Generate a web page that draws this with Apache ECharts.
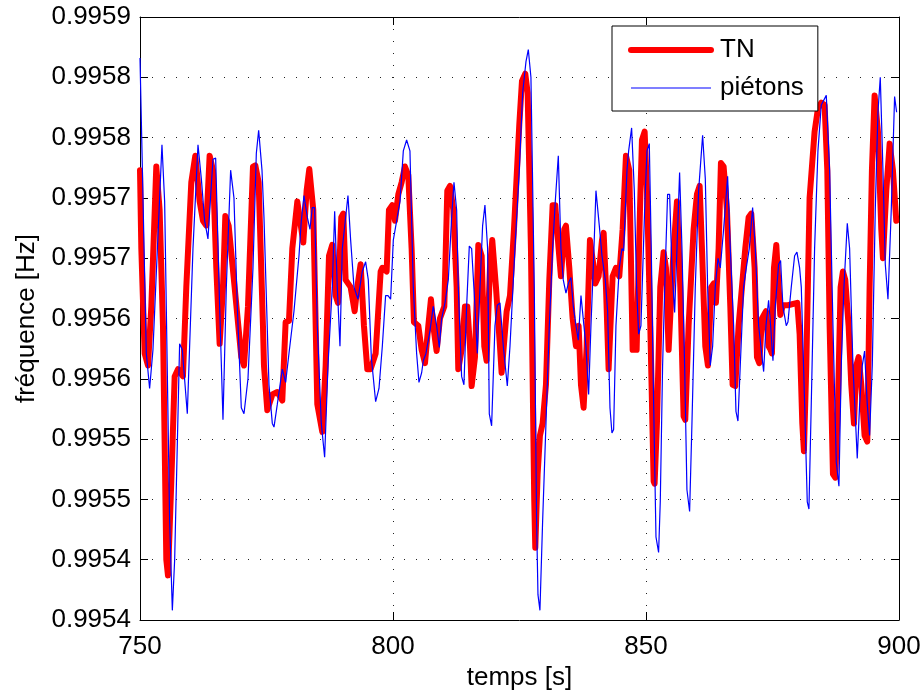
<!DOCTYPE html>
<html>
<head>
<meta charset="utf-8">
<script src="https://cdn.jsdelivr.net/npm/echarts@6/dist/echarts.min.js"></script>
<style>
html,body{margin:0;padding:0;background:#fff;}
#chart{width:922px;height:691px;}
</style>
</head>
<body>
<div id="chart"></div>
<script>
// ---- data ----
var xTicks = [750, 800, 850, 900];
var yTickLabels = ['0.9954','0.9954','0.9955','0.9955','0.9956','0.9956','0.9957','0.9957','0.9958','0.9958','0.9959'];
var seriesNames = ['TN', 'piétons'];

var tTN = [750.0,750.26,750.92,751.58,752.24,753.22,753.88,754.54,755.2,755.53,756.19,756.85,757.51,758.49,759.15,760.14,760.93,761.79,762.45,763.1,763.76,764.42,765.08,765.74,766.4,766.86,767.52,768.7,770.02,770.55,771.34,772.33,772.79,773.45,774.3,774.5,775.16,776.15,777.14,778.12,778.78,779.44,780.1,781.09,781.42,782.27,782.93,783.46,784.25,785.04,786.03,786.69,787.35,788.0,788.66,789.12,789.78,790.18,790.64,791.63,792.42,792.95,793.6,794.26,794.92,795.58,796.57,797.56,797.89,798.74,799.2,799.86,800.39,801.05,801.71,802.36,803.02,803.68,804.14,805.0,805.66,806.32,806.98,807.5,807.96,808.62,809.28,810.14,810.73,811.26,811.92,812.58,812.9,813.56,814.22,814.68,815.21,815.54,816.2,816.86,817.52,818.04,818.5,819.16,819.62,820.35,821.14,821.47,821.8,822.46,823.12,823.91,824.96,825.49,826.14,826.61,827.26,827.92,828.12,828.58,829.04,829.57,830.23,830.89,831.55,832.07,832.73,833.19,833.85,834.18,834.84,835.5,836.16,836.68,837.15,837.67,838.27,838.92,839.58,839.98,840.64,841.3,841.63,842.09,842.61,843.4,844.06,844.72,845.38,846.04,846.7,847.36,848.15,848.81,849.2,849.73,850.19,850.85,851.51,851.7,852.16,852.82,853.48,853.94,854.47,854.8,855.46,856.12,856.78,857.43,857.76,858.42,859.41,860.07,860.6,861.06,861.72,862.24,862.9,863.36,863.82,864.35,864.81,865.34,866.0,866.66,867.12,867.65,868.3,868.96,869.62,870.28,870.81,871.47,871.93,872.39,872.92,873.71,874.23,874.63,874.89,875.29,875.75,876.21,876.54,877.06,878.05,879.9,880.36,880.89,881.21,881.68,882.33,883.32,883.98,884.64,885.3,885.83,886.29,886.95,887.41,887.93,888.46,888.92,889.38,890.04,890.57,891.1,891.56,892.02,892.55,893.2,893.73,894.19,894.65,895.18,895.84,896.5,896.83,897.49,898.15,898.8,899.46];
var fTN = [0.995773,0.995708,0.995621,0.995611,0.99566,0.995776,0.99574,0.995644,0.99545,0.995437,0.995515,0.995602,0.995608,0.995602,0.995676,0.995763,0.995785,0.995747,0.995731,0.995727,0.995785,0.995773,0.995692,0.995629,0.995676,0.995735,0.995727,0.995676,0.995618,0.995611,0.99566,0.995776,0.995777,0.995763,0.995644,0.995611,0.995574,0.995587,0.995589,0.995582,0.995647,0.995648,0.995708,0.995747,0.995747,0.995713,0.995756,0.995774,0.99574,0.995579,0.995556,0.995611,0.995702,0.995711,0.995669,0.995663,0.995734,0.995737,0.995682,0.995676,0.995656,0.995676,0.995695,0.995644,0.995608,0.995608,0.995621,0.995689,0.995692,0.995689,0.99574,0.995744,0.995731,0.995753,0.995763,0.995776,0.995769,0.995708,0.995647,0.995644,0.995624,0.995613,0.995644,0.995666,0.995644,0.995623,0.99565,0.99566,0.995756,0.99576,0.99574,0.995676,0.995608,0.995624,0.99566,0.99566,0.995627,0.995594,0.995618,0.995711,0.995702,0.995627,0.995615,0.995692,0.995715,0.995676,0.995627,0.995605,0.995605,0.995656,0.995669,0.995724,0.995811,0.995847,0.995853,0.995837,0.995708,0.995498,0.99546,0.995521,0.995553,0.995563,0.995595,0.995682,0.995744,0.995744,0.995708,0.995685,0.995724,0.995727,0.995692,0.99565,0.995627,0.995644,0.995595,0.995576,0.995627,0.995715,0.995695,0.995679,0.995685,0.995715,0.995721,0.995676,0.995608,0.995685,0.995692,0.995685,0.995724,0.995785,0.995773,0.995624,0.995624,0.99574,0.995798,0.995805,0.995756,0.995644,0.995515,0.995513,0.995563,0.995676,0.995705,0.995692,0.995624,0.995624,0.995708,0.995747,0.995676,0.995569,0.995566,0.995644,0.995724,0.995753,0.99576,0.995708,0.995627,0.995611,0.995676,0.995679,0.995663,0.995708,0.995779,0.995776,0.99574,0.99566,0.995595,0.995594,0.995644,0.995676,0.995708,0.995734,0.995737,0.995692,0.995618,0.995613,0.99565,0.995656,0.995627,0.995624,0.995621,0.995692,0.995711,0.995676,0.995653,0.995661,0.995661,0.995663,0.995637,0.995563,0.99554,0.995611,0.99575,0.995805,0.995824,0.995829,0.995827,0.995773,0.995644,0.995521,0.995518,0.995579,0.995676,0.995689,0.995682,0.995644,0.995595,0.995563,0.995611,0.995618,0.995595,0.995553,0.995548,0.995676,0.995773,0.995835,0.995805,0.995724,0.9957,0.995756,0.995795,0.995773,0.995731];

var tPed = [750.0,751.25,751.9,752.56,754.34,754.87,755.86,756.39,756.85,757.83,758.36,759.35,760.47,761.46,762.12,762.78,763.43,764.42,764.95,765.74,766.4,767.06,767.91,768.57,769.23,770.02,770.55,771.34,772.33,772.99,773.45,774.11,774.5,775.49,776.15,776.48,777.14,778.12,778.78,779.44,780.43,781.42,781.88,782.41,783.06,783.59,784.05,784.51,785.04,785.83,786.49,787.15,788.0,788.47,788.99,789.52,789.98,790.64,791.1,791.63,792.29,793.08,793.93,794.59,795.12,795.71,796.57,797.23,797.89,798.54,799.01,799.53,800.06,800.72,801.38,802.04,802.69,803.35,804.01,804.67,805.13,805.66,805.99,806.51,806.84,807.31,807.96,808.62,809.15,809.61,810.27,810.93,811.59,812.05,812.58,812.9,813.56,814.02,814.55,815.08,815.54,816.2,816.66,817.19,817.71,818.17,818.7,819.03,819.49,820.15,820.61,821.14,821.8,822.59,823.12,824.1,824.96,825.62,826.28,826.74,827.26,827.92,828.38,828.65,829.04,829.57,830.23,830.89,831.55,832.07,832.67,833.19,833.65,834.18,834.64,835.17,835.63,836.16,836.62,837.15,837.48,838.13,838.66,839.12,839.58,840.11,840.77,841.3,841.95,842.42,842.88,843.27,843.6,844.06,844.72,845.25,845.58,846.24,846.57,847.16,847.69,848.15,848.54,849.0,849.73,850.19,850.65,851.04,851.51,851.97,852.49,852.82,853.28,853.81,854.27,854.67,855.13,855.66,856.12,856.64,857.11,857.63,858.09,858.62,859.08,859.74,860.4,861.19,861.72,862.18,862.7,863.17,863.69,864.22,864.68,865.34,866.13,866.66,867.32,867.78,868.17,868.63,869.29,869.82,870.41,871.07,871.6,872.26,873.25,873.71,874.23,874.63,875.09,875.55,876.21,876.6,877.06,877.72,878.05,878.71,879.37,879.83,880.36,880.69,881.35,881.87,882.2,882.66,883.32,883.98,884.64,885.63,886.29,886.95,887.6,888.13,888.59,889.12,889.78,890.24,890.9,891.75,892.22,892.74,893.2,893.73,894.19,894.72,895.31,895.84,896.3,896.83,897.29,897.82,898.47,899.13,899.53];
var fPed = [0.995866,0.995621,0.995592,0.995624,0.995794,0.995747,0.995482,0.995408,0.99545,0.995629,0.995624,0.995571,0.995708,0.995794,0.995766,0.995731,0.995716,0.995782,0.995783,0.99566,0.995566,0.995676,0.995773,0.99575,0.99566,0.995576,0.995571,0.9956,0.995692,0.995787,0.995806,0.995773,0.995734,0.995595,0.995563,0.99556,0.995579,0.995608,0.995597,0.995621,0.995656,0.995702,0.995731,0.995752,0.995734,0.995724,0.995742,0.995742,0.995644,0.995563,0.995535,0.995611,0.995676,0.995739,0.995676,0.995627,0.995708,0.995734,0.995752,0.995715,0.995676,0.995666,0.995689,0.995697,0.995682,0.995618,0.995581,0.995592,0.995627,0.995669,0.995669,0.995666,0.995715,0.995731,0.995747,0.995789,0.995798,0.995789,0.995676,0.995621,0.995597,0.995605,0.995615,0.995621,0.995621,0.99564,0.99566,0.995644,0.995626,0.99565,0.995663,0.995682,0.995734,0.995763,0.99574,0.995676,0.995602,0.995595,0.99566,0.99571,0.995708,0.99566,0.995621,0.995676,0.995727,0.995744,0.995708,0.995571,0.995561,0.995644,0.995661,0.995663,0.995627,0.995594,0.995627,0.995708,0.995773,0.995837,0.995863,0.995873,0.99585,0.995676,0.995482,0.995421,0.995408,0.995482,0.995563,0.995644,0.995708,0.995747,0.995785,0.995708,0.995682,0.995671,0.995679,0.995684,0.99566,0.995644,0.995632,0.995669,0.995669,0.995627,0.995587,0.995644,0.995692,0.995756,0.995727,0.995702,0.995682,0.995656,0.995576,0.995555,0.995558,0.995644,0.995692,0.995708,0.995706,0.995773,0.995789,0.995808,0.995756,0.995676,0.995637,0.995644,0.99574,0.995789,0.995795,0.995708,0.995579,0.995469,0.995456,0.995498,0.995611,0.995692,0.995753,0.995753,0.995692,0.995655,0.995708,0.995771,0.995708,0.995611,0.995508,0.99549,0.995563,0.995676,0.995756,0.995802,0.995766,0.995676,0.995611,0.995627,0.995676,0.9957,0.995692,0.995724,0.995768,0.995708,0.995644,0.995573,0.995565,0.995611,0.995676,0.995692,0.995708,0.995742,0.995708,0.995644,0.995606,0.995644,0.995665,0.995644,0.995615,0.99566,0.995695,0.995698,0.99566,0.995644,0.995647,0.995676,0.995702,0.995705,0.995692,0.995676,0.995579,0.995498,0.995492,0.995579,0.995708,0.995789,0.995827,0.995835,0.995773,0.995644,0.995531,0.995511,0.995611,0.995676,0.995729,0.995708,0.995611,0.995534,0.995579,0.995611,0.995623,0.995579,0.995553,0.995611,0.99574,0.995821,0.99585,0.995773,0.995695,0.995666,0.99574,0.995834,0.995821];

// ---- build ----
function zip(a, b) { var r = []; for (var i = 0; i < a.length; i++) r.push([a[i], b[i]]); return r; }
var yMin = 0.9954, yMax = 0.9959, yStep = 0.00005;
var FONT = '"Liberation Sans", Arial, Helvetica, sans-serif';
var FS = 26;

var chart = echarts.init(document.getElementById('chart'), null, {renderer: 'canvas'});
var axisLineStyle = {color: '#000', width: 1};
var gridDots = {color: '#222', width: 1, type: [1, 11]};

chart.setOption({
  animation: false,
  backgroundColor: '#fff',
  textStyle: {fontFamily: FONT, color: '#000'},
  grid: {left: 140, right: 23, top: 17, bottom: 71, containLabel: false, outerBoundsMode: 'none'},
  legend: {
    orient: 'vertical',
    left: 612, top: 26,
    padding: [11, 14, 10, 16],
    itemWidth: 80, itemHeight: 26, itemGap: 12,
    backgroundColor: '#fff',
    borderColor: '#000', borderWidth: 1, borderRadius: 0,
    textStyle: {fontFamily: FONT, fontSize: FS, color: '#000', padding: [0,0,0,4]},
    lineStyle: {width: 'inherit'},
    itemStyle: {color: 'rgba(0,0,0,0)', opacity: 0, borderWidth: 0},
    data: seriesNames
  },
  xAxis: [{
    type: 'value', min: xTicks[0], max: xTicks[xTicks.length - 1], interval: 50,
    position: 'bottom',
    name: 'temps [s]', nameLocation: 'middle', nameGap: 45,
    nameTextStyle: {fontFamily: FONT, fontSize: FS, color: '#000'},
    axisLine: {show: true, onZero: false, lineStyle: axisLineStyle},
    axisTick: {show: true, inside: true, length: 8, lineStyle: axisLineStyle},
    axisLabel: {fontFamily: FONT, fontSize: FS, color: '#000', margin: 14},
    splitLine: {show: true, lineStyle: gridDots}
  }, {
    type: 'value', min: xTicks[0], max: xTicks[xTicks.length - 1], interval: 50,
    position: 'top',
    axisLine: {show: true, onZero: false, lineStyle: axisLineStyle},
    axisTick: {show: true, inside: true, length: 8, lineStyle: axisLineStyle},
    axisLabel: {show: false},
    splitLine: {show: false}
  }],
  yAxis: [{
    type: 'value', min: yMin, max: yMax, interval: yStep,
    position: 'left',
    name: 'fréquence [Hz]', nameLocation: 'middle', nameGap: 100, nameRotate: 90,
    nameTextStyle: {fontFamily: FONT, fontSize: FS, color: '#000'},
    axisLine: {show: true, onZero: false, lineStyle: axisLineStyle},
    axisTick: {show: true, inside: true, length: 8, lineStyle: axisLineStyle},
    axisLabel: {
      fontFamily: FONT, fontSize: FS, color: '#000', margin: 9,
      formatter: function (v) { return yTickLabels[Math.round((v - yMin) / yStep)]; }
    },
    splitLine: {show: true, lineStyle: gridDots}
  }, {
    type: 'value', min: yMin, max: yMax, interval: yStep,
    position: 'right',
    axisLine: {show: true, onZero: false, lineStyle: axisLineStyle},
    axisTick: {show: true, inside: true, length: 8, lineStyle: axisLineStyle},
    axisLabel: {show: false},
    splitLine: {show: false}
  }],
  series: [{
    name: seriesNames[0], type: 'line', xAxisIndex: 0, yAxisIndex: 0,
    data: zip(tTN, fTN), symbol: 'none', smooth: false,
    lineStyle: {color: '#ff0000', width: 6, join: 'round', cap: 'round'},
    itemStyle: {color: '#ff0000'}
  }, {
    name: seriesNames[1], type: 'line', xAxisIndex: 0, yAxisIndex: 0,
    data: zip(tPed, fPed), symbol: 'none', smooth: false,
    lineStyle: {color: '#0000ff', width: 1.2},
    itemStyle: {color: '#0000ff'}
  }]
});
</script>
</body>
</html>
